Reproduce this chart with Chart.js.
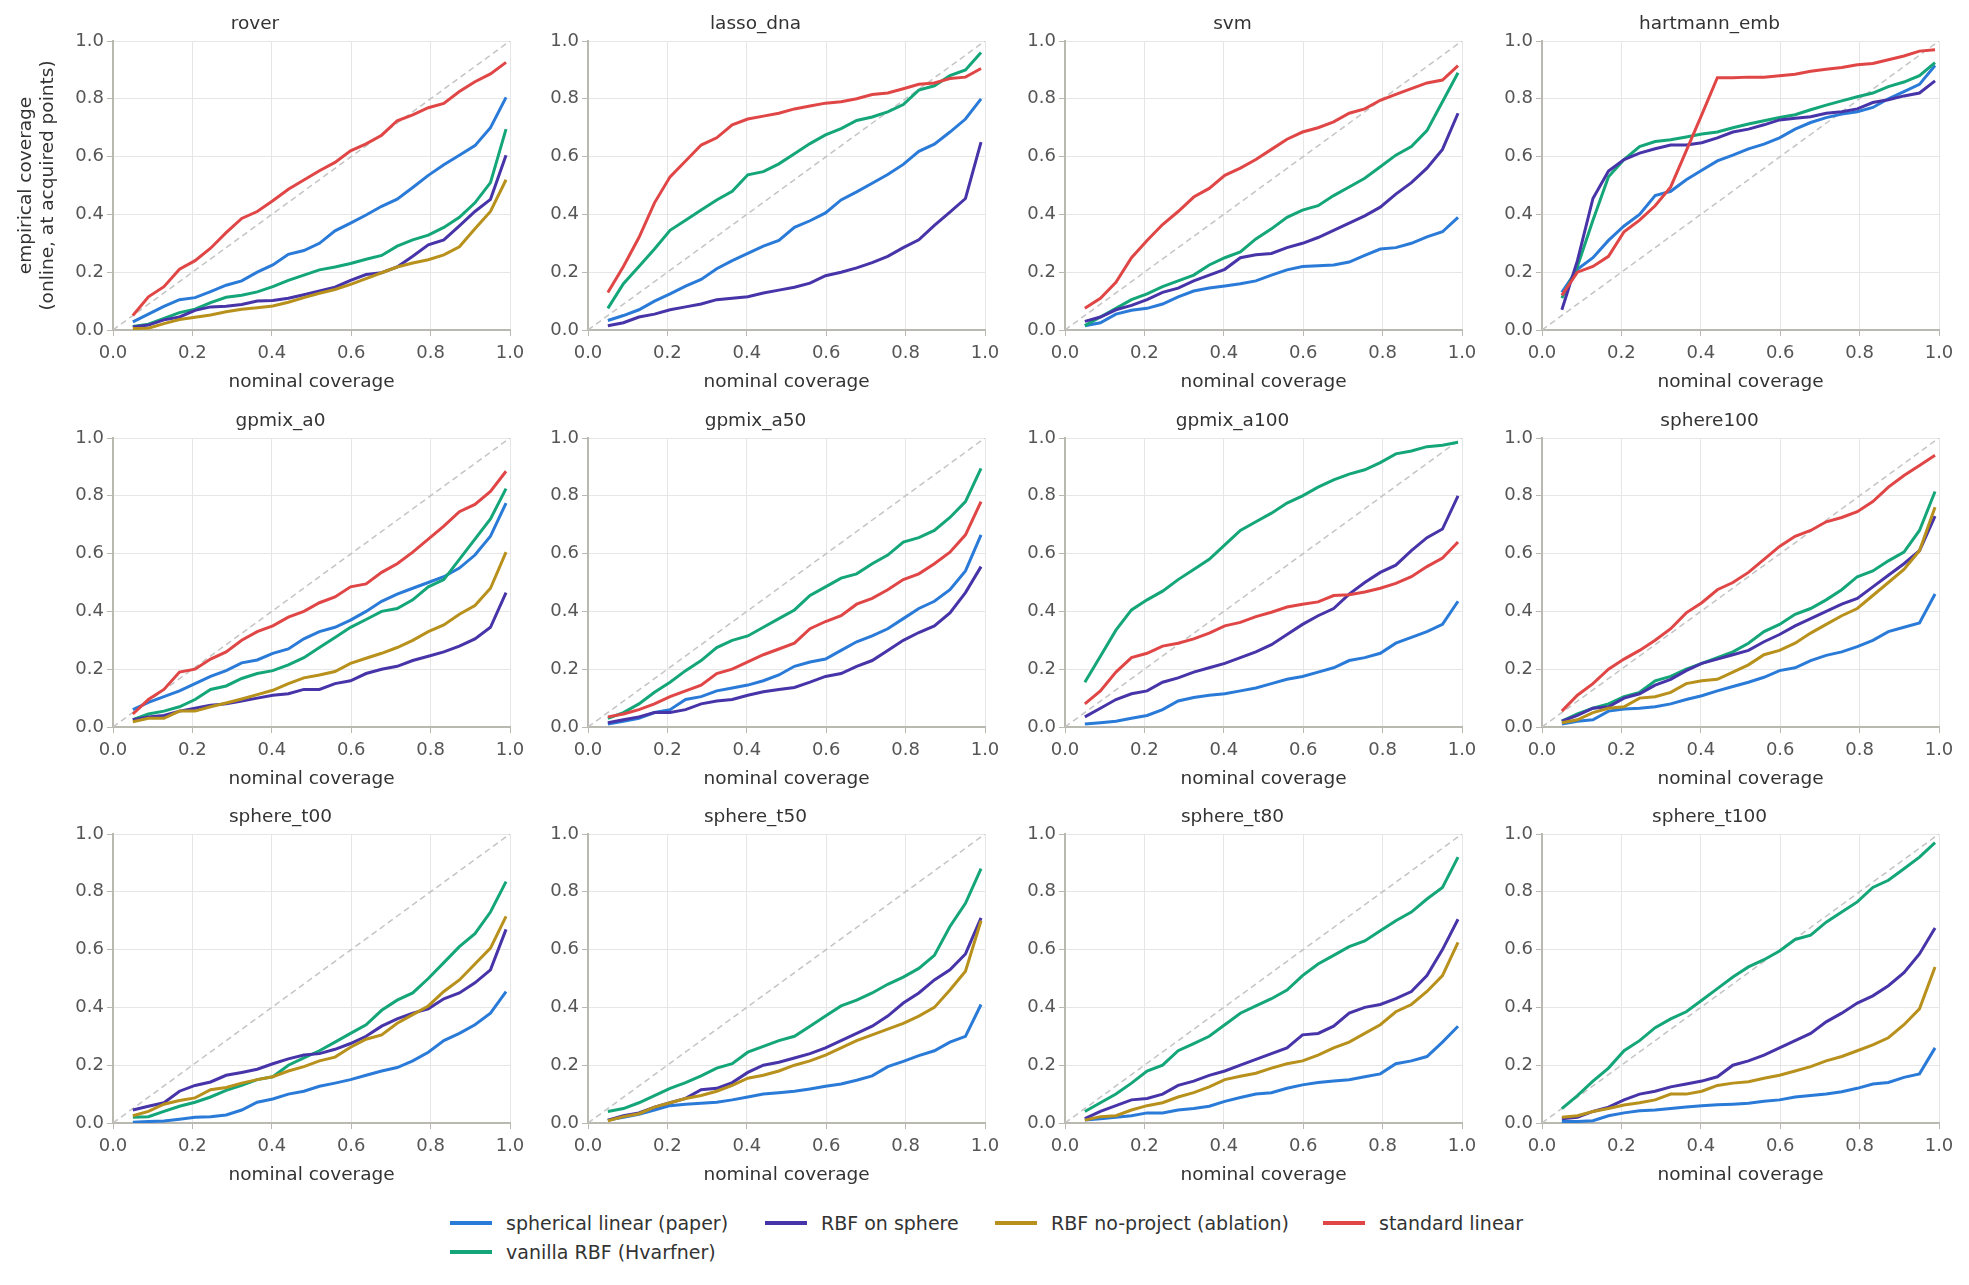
<!DOCTYPE html>
<html>
<head>
<meta charset="utf-8">
<script src="https://cdn.jsdelivr.net/npm/chart.js@4.4.1/dist/chart.umd.min.js"></script>
<style>
  body { margin: 0; background: #fff; width: 1969px; height: 1285px; position: relative; overflow: hidden; font-family: "DejaVu Sans", sans-serif; }
  .panel { position: absolute; }
  .legend-item { position: absolute; height: 24px; display: flex; align-items: center; font-size: 19px; color: #333; white-space: nowrap; }
  .legend-item .swatch { display: inline-block; width: 42px; height: 4px; margin-right: 14px; }
</style>
</head>
<body>
<script>
// nominal coverage levels (x values shared by every panel)
const nominal = [0.05, 0.0892, 0.1283, 0.1675, 0.2067, 0.2458, 0.285, 0.3242, 0.3633, 0.4025, 0.4417, 0.4808, 0.52,
                 0.5592, 0.5983, 0.6375, 0.6767, 0.7158, 0.755, 0.7942, 0.8333, 0.8725, 0.9117, 0.9508, 0.99]
const diagonal = [0, 1]
const ticks = [0, 0.2, 0.4, 0.6, 0.8, 1.0]

// rover
const rover_sph   = [0.028,0.055,0.082,0.105,0.112,0.133,0.155,0.17,0.2,0.225,0.262,0.275,0.3,0.343,0.37,0.398,0.428,0.453,0.493,0.535,0.572,0.605,0.638,0.7,0.805]
const rover_rbfS  = [0.01,0.017,0.035,0.045,0.068,0.08,0.082,0.088,0.1,0.102,0.11,0.122,0.135,0.148,0.172,0.192,0.198,0.218,0.255,0.295,0.312,0.36,0.41,0.452,0.605]
const rover_rbfNP = [0.005,0.006,0.022,0.036,0.044,0.052,0.063,0.072,0.077,0.083,0.096,0.112,0.127,0.14,0.158,0.178,0.198,0.218,0.232,0.243,0.26,0.288,0.35,0.41,0.52]
const rover_std   = [0.05,0.115,0.15,0.21,0.24,0.283,0.337,0.386,0.41,0.447,0.487,0.519,0.551,0.58,0.62,0.644,0.674,0.724,0.744,0.769,0.784,0.825,0.859,0.886,0.926]
const rover_van   = [0.012,0.02,0.04,0.06,0.072,0.095,0.113,0.12,0.132,0.15,0.172,0.19,0.208,0.218,0.23,0.245,0.258,0.29,0.312,0.328,0.355,0.39,0.44,0.51,0.695]

// lasso_dna
const lasso_sph  = [0.033,0.05,0.07,0.1,0.125,0.152,0.175,0.212,0.24,0.265,0.29,0.31,0.355,0.378,0.405,0.45,0.478,0.508,0.538,0.573,0.618,0.643,0.685,0.73,0.8]
const lasso_rbfS = [0.015,0.025,0.045,0.055,0.07,0.08,0.09,0.105,0.11,0.115,0.128,0.138,0.148,0.162,0.188,0.2,0.215,0.233,0.255,0.285,0.312,0.362,0.408,0.455,0.65]
const lasso_std  = [0.13,0.22,0.32,0.44,0.53,0.585,0.64,0.665,0.71,0.73,0.74,0.75,0.765,0.775,0.785,0.79,0.8,0.815,0.82,0.835,0.85,0.855,0.87,0.875,0.905]
const lasso_van  = [0.075,0.16,0.22,0.28,0.345,0.38,0.415,0.45,0.48,0.537,0.548,0.575,0.61,0.645,0.675,0.697,0.725,0.737,0.755,0.78,0.83,0.845,0.88,0.9,0.96]

// svm
const svm_sph  = [0.015,0.025,0.055,0.068,0.075,0.09,0.115,0.135,0.145,0.152,0.16,0.17,0.19,0.208,0.22,0.222,0.225,0.235,0.258,0.28,0.285,0.3,0.322,0.34,0.39]
const svm_rbfS = [0.03,0.045,0.07,0.085,0.105,0.13,0.145,0.17,0.19,0.21,0.25,0.26,0.265,0.285,0.3,0.32,0.345,0.37,0.395,0.425,0.47,0.51,0.56,0.625,0.75]
const svm_std  = [0.075,0.11,0.165,0.25,0.31,0.365,0.41,0.46,0.49,0.535,0.56,0.59,0.625,0.66,0.685,0.7,0.72,0.75,0.765,0.795,0.815,0.835,0.855,0.865,0.915]
const svm_van  = [0.015,0.045,0.075,0.105,0.125,0.15,0.17,0.19,0.225,0.25,0.27,0.315,0.35,0.39,0.415,0.43,0.465,0.495,0.525,0.565,0.605,0.635,0.69,0.79,0.89]

// hartmann_emb
const hart_sph  = [0.13,0.21,0.25,0.31,0.36,0.4,0.465,0.48,0.52,0.553,0.585,0.605,0.627,0.643,0.665,0.695,0.718,0.735,0.747,0.755,0.77,0.8,0.825,0.85,0.915]
const hart_rbfS = [0.07,0.24,0.455,0.55,0.59,0.612,0.627,0.64,0.64,0.648,0.665,0.685,0.695,0.71,0.727,0.733,0.738,0.75,0.755,0.765,0.787,0.797,0.81,0.82,0.862]
const hart_std  = [0.12,0.2,0.22,0.255,0.34,0.38,0.43,0.495,0.62,0.745,0.873,0.873,0.875,0.875,0.88,0.885,0.895,0.902,0.908,0.918,0.922,0.935,0.948,0.965,0.97]
const hart_van  = [0.11,0.22,0.38,0.53,0.59,0.635,0.652,0.658,0.668,0.678,0.685,0.7,0.713,0.724,0.735,0.745,0.762,0.778,0.793,0.807,0.82,0.842,0.858,0.88,0.925]

// gpmix_a0
const a0_sph   = [0.06,0.085,0.105,0.125,0.15,0.175,0.195,0.222,0.232,0.255,0.27,0.305,0.33,0.345,0.37,0.4,0.435,0.46,0.48,0.5,0.52,0.55,0.595,0.66,0.775]
const a0_rbfS  = [0.025,0.035,0.04,0.055,0.065,0.075,0.08,0.09,0.1,0.11,0.115,0.13,0.13,0.15,0.16,0.185,0.2,0.21,0.23,0.245,0.26,0.28,0.305,0.345,0.465]
const a0_rbfNP = [0.018,0.03,0.03,0.055,0.055,0.07,0.083,0.097,0.112,0.127,0.15,0.17,0.18,0.192,0.22,0.238,0.255,0.275,0.3,0.33,0.353,0.39,0.42,0.48,0.605]
const a0_std   = [0.045,0.095,0.13,0.19,0.2,0.235,0.26,0.3,0.33,0.35,0.38,0.4,0.43,0.45,0.485,0.495,0.535,0.565,0.605,0.65,0.695,0.745,0.77,0.815,0.885]
const a0_van   = [0.025,0.045,0.055,0.07,0.095,0.13,0.142,0.168,0.185,0.195,0.215,0.24,0.275,0.31,0.345,0.372,0.4,0.41,0.44,0.485,0.51,0.58,0.65,0.72,0.825]

// gpmix_a50
const a50_sph  = [0.01,0.02,0.03,0.05,0.06,0.095,0.105,0.125,0.135,0.145,0.16,0.18,0.21,0.225,0.235,0.265,0.295,0.315,0.34,0.375,0.41,0.435,0.475,0.54,0.665]
const a50_rbfS = [0.015,0.025,0.035,0.05,0.05,0.06,0.08,0.09,0.095,0.11,0.122,0.13,0.137,0.155,0.175,0.185,0.21,0.23,0.265,0.3,0.327,0.35,0.395,0.465,0.555]
const a50_std  = [0.035,0.045,0.06,0.08,0.105,0.125,0.145,0.185,0.2,0.225,0.25,0.27,0.29,0.34,0.365,0.385,0.425,0.445,0.475,0.51,0.53,0.565,0.605,0.665,0.78]
const a50_van  = [0.03,0.05,0.08,0.12,0.155,0.195,0.23,0.275,0.3,0.315,0.345,0.375,0.405,0.455,0.485,0.515,0.53,0.565,0.595,0.64,0.655,0.68,0.725,0.78,0.895]

// gpmix_a100
const a100_sph  = [0.01,0.015,0.02,0.03,0.04,0.06,0.09,0.102,0.11,0.115,0.125,0.135,0.15,0.165,0.175,0.19,0.205,0.23,0.24,0.255,0.29,0.31,0.33,0.355,0.435]
const a100_rbfS = [0.035,0.065,0.095,0.115,0.125,0.155,0.17,0.19,0.205,0.22,0.24,0.26,0.285,0.32,0.355,0.385,0.41,0.46,0.5,0.535,0.56,0.61,0.655,0.685,0.8]
const a100_std  = [0.08,0.125,0.19,0.24,0.255,0.28,0.29,0.305,0.325,0.35,0.362,0.382,0.397,0.415,0.425,0.433,0.455,0.458,0.467,0.48,0.497,0.52,0.555,0.585,0.64]
const a100_van  = [0.155,0.245,0.335,0.405,0.44,0.47,0.51,0.545,0.58,0.63,0.68,0.71,0.74,0.775,0.8,0.83,0.855,0.875,0.89,0.915,0.945,0.955,0.97,0.975,0.985]

// sphere100
const s100_sph   = [0.01,0.02,0.025,0.055,0.062,0.065,0.07,0.08,0.095,0.108,0.125,0.14,0.155,0.172,0.195,0.205,0.23,0.248,0.26,0.278,0.3,0.33,0.345,0.36,0.46]
const s100_rbfS  = [0.02,0.04,0.065,0.07,0.1,0.115,0.145,0.165,0.195,0.22,0.235,0.25,0.265,0.295,0.32,0.35,0.375,0.4,0.425,0.445,0.485,0.525,0.565,0.61,0.73]
const s100_rbfNP = [0.015,0.025,0.05,0.065,0.07,0.1,0.105,0.12,0.15,0.16,0.165,0.19,0.215,0.25,0.265,0.29,0.325,0.355,0.385,0.41,0.455,0.5,0.545,0.61,0.76]
const s100_std   = [0.055,0.11,0.15,0.2,0.235,0.265,0.3,0.34,0.395,0.43,0.475,0.5,0.535,0.58,0.625,0.66,0.68,0.71,0.725,0.745,0.78,0.83,0.87,0.905,0.94]
const s100_van   = [0.02,0.045,0.065,0.08,0.105,0.12,0.16,0.175,0.2,0.22,0.24,0.26,0.29,0.33,0.355,0.39,0.41,0.44,0.475,0.52,0.54,0.575,0.605,0.68,0.815]

// sphere_t00
const t00_sph   = [0.003,0.005,0.007,0.013,0.02,0.022,0.028,0.045,0.072,0.083,0.1,0.11,0.127,0.138,0.15,0.165,0.18,0.192,0.215,0.245,0.285,0.31,0.34,0.38,0.455]
const t00_rbfS  = [0.045,0.058,0.07,0.11,0.13,0.142,0.165,0.175,0.186,0.205,0.222,0.235,0.24,0.255,0.275,0.3,0.335,0.36,0.38,0.395,0.43,0.45,0.485,0.53,0.67]
const t00_rbfNP = [0.025,0.04,0.065,0.078,0.087,0.115,0.123,0.138,0.15,0.16,0.18,0.195,0.215,0.228,0.262,0.29,0.305,0.345,0.375,0.405,0.455,0.495,0.55,0.605,0.715]
const t00_van   = [0.02,0.022,0.04,0.058,0.072,0.09,0.113,0.13,0.15,0.16,0.2,0.225,0.25,0.28,0.31,0.34,0.39,0.425,0.45,0.5,0.555,0.61,0.655,0.73,0.835]

// sphere_t50
const t50_sph   = [0.01,0.02,0.03,0.045,0.06,0.065,0.068,0.072,0.08,0.09,0.1,0.105,0.11,0.118,0.127,0.135,0.148,0.163,0.195,0.213,0.233,0.25,0.28,0.3,0.41]
const t50_rbfS  = [0.01,0.025,0.035,0.055,0.07,0.085,0.115,0.12,0.14,0.175,0.2,0.21,0.225,0.24,0.26,0.285,0.31,0.335,0.37,0.415,0.45,0.495,0.53,0.585,0.71]
const t50_rbfNP = [0.008,0.022,0.032,0.055,0.07,0.085,0.095,0.11,0.13,0.155,0.165,0.18,0.2,0.215,0.235,0.26,0.285,0.305,0.325,0.345,0.37,0.4,0.46,0.525,0.7]
const t50_van   = [0.04,0.05,0.07,0.095,0.12,0.14,0.163,0.19,0.205,0.245,0.265,0.285,0.3,0.335,0.37,0.405,0.425,0.45,0.48,0.505,0.535,0.58,0.68,0.76,0.88]

// sphere_t80
const t80_sph   = [0.01,0.015,0.02,0.025,0.035,0.035,0.045,0.05,0.058,0.075,0.088,0.1,0.105,0.12,0.132,0.14,0.145,0.15,0.16,0.17,0.205,0.215,0.23,0.28,0.335]
const t80_rbfS  = [0.015,0.04,0.06,0.08,0.085,0.1,0.13,0.145,0.165,0.18,0.2,0.22,0.24,0.26,0.305,0.31,0.335,0.38,0.4,0.41,0.43,0.455,0.51,0.6,0.705]
const t80_rbfNP = [0.01,0.022,0.025,0.045,0.06,0.07,0.09,0.105,0.125,0.15,0.162,0.172,0.19,0.205,0.215,0.235,0.26,0.28,0.31,0.34,0.385,0.41,0.455,0.51,0.625]
const t80_van   = [0.04,0.07,0.1,0.138,0.18,0.2,0.25,0.275,0.3,0.34,0.38,0.405,0.43,0.46,0.51,0.55,0.58,0.61,0.63,0.665,0.7,0.73,0.775,0.815,0.92]

// sphere_t100
const t100_sph   = [0.005,0.005,0.008,0.025,0.035,0.042,0.045,0.05,0.055,0.06,0.063,0.065,0.068,0.075,0.08,0.09,0.095,0.1,0.108,0.12,0.135,0.14,0.158,0.17,0.26]
const t100_rbfS  = [0.015,0.02,0.04,0.055,0.08,0.1,0.11,0.125,0.135,0.145,0.16,0.2,0.215,0.235,0.26,0.285,0.31,0.35,0.38,0.415,0.44,0.475,0.52,0.585,0.675]
const t100_rbfNP = [0.02,0.025,0.04,0.05,0.062,0.07,0.08,0.1,0.1,0.11,0.13,0.138,0.143,0.155,0.165,0.18,0.195,0.215,0.23,0.25,0.27,0.295,0.34,0.395,0.54]
const t100_van   = [0.05,0.095,0.145,0.19,0.25,0.285,0.33,0.36,0.385,0.425,0.465,0.505,0.54,0.565,0.595,0.635,0.65,0.695,0.73,0.765,0.815,0.84,0.88,0.92,0.97]

const methods = [
  { key: 'sph',   label: 'spherical linear (paper)', color: '#2a7ad8', order: 5 },
  { key: 'van',   label: 'vanilla RBF (Hvarfner)',   color: '#14a678', order: 4 },
  { key: 'rbfS',  label: 'RBF on sphere',            color: '#4634a8', order: 3 },
  { key: 'rbfNP', label: 'RBF no-project (ablation)', color: '#b8901c', order: 2 },
  { key: 'std',   label: 'standard linear',          color: '#e04646', order: 1 },
]

const panels = [
  { title: 'rover',        sph: rover_sph, rbfS: rover_rbfS, rbfNP: rover_rbfNP, std: rover_std, van: rover_van },
  { title: 'lasso_dna',    sph: lasso_sph, rbfS: lasso_rbfS, std: lasso_std, van: lasso_van },
  { title: 'svm',          sph: svm_sph, rbfS: svm_rbfS, std: svm_std, van: svm_van },
  { title: 'hartmann_emb', sph: hart_sph, rbfS: hart_rbfS, std: hart_std, van: hart_van },
  { title: 'gpmix_a0',     sph: a0_sph, rbfS: a0_rbfS, rbfNP: a0_rbfNP, std: a0_std, van: a0_van },
  { title: 'gpmix_a50',    sph: a50_sph, rbfS: a50_rbfS, std: a50_std, van: a50_van },
  { title: 'gpmix_a100',   sph: a100_sph, rbfS: a100_rbfS, std: a100_std, van: a100_van },
  { title: 'sphere100',    sph: s100_sph, rbfS: s100_rbfS, rbfNP: s100_rbfNP, std: s100_std, van: s100_van },
  { title: 'sphere_t00',   sph: t00_sph, rbfS: t00_rbfS, rbfNP: t00_rbfNP, van: t00_van },
  { title: 'sphere_t50',   sph: t50_sph, rbfS: t50_rbfS, rbfNP: t50_rbfNP, van: t50_van },
  { title: 'sphere_t80',   sph: t80_sph, rbfS: t80_rbfS, rbfNP: t80_rbfNP, van: t80_van },
  { title: 'sphere_t100',  sph: t100_sph, rbfS: t100_rbfS, rbfNP: t100_rbfNP, van: t100_van },
]

// plot-area geometry of the 4x3 grid
const plotLeft = [113, 588, 1065, 1542]
const plotTop = [41, 438, 834]
const plotW = 397, plotH = 289
const titleH = 41, xAxisH = 66, padRight = 26

const axisGray = '#b9b9b1'
const tickFont = { family: 'DejaVu Sans', size: 18 }
const labelFont = { family: 'DejaVu Sans', size: 18.5, weight: 'normal' }

function makePanel(p, i) {
  const col = i % 4, row = Math.floor(i / 4)
  const yw = i === 0 ? 113 : 62
  const div = document.createElement('div')
  div.className = 'panel'
  const w = yw + plotW + padRight, h = titleH + plotH + xAxisH
  div.style.left = (plotLeft[col] - yw) + 'px'
  div.style.top = (plotTop[row] - titleH) + 'px'
  div.style.width = w + 'px'
  div.style.height = h + 'px'
  const canvas = document.createElement('canvas')
  canvas.width = w
  canvas.height = h
  div.appendChild(canvas)
  document.body.appendChild(div)

  const datasets = [{
    data: diagonal.map(v => ({ x: v, y: v })),
    borderColor: '#c4c4c4',
    borderWidth: 1.5,
    borderDash: [6, 4],
    pointRadius: 0,
    order: 10,
  }]
  methods.forEach(m => {
    if (!p[m.key]) return
    datasets.push({
      label: m.label,
      data: p[m.key].map((v, j) => ({ x: nominal[j], y: v })),
      borderColor: m.color,
      borderWidth: 3,
      pointRadius: 0,
      tension: 0,
      order: m.order,
    })
  })

  const axis = (title, isY) => ({
    type: 'linear',
    min: 0,
    max: 1,
    afterBuildTicks: s => { s.ticks = ticks.map(v => ({ value: v })) },
    ticks: {
      color: '#555',
      font: tickFont,
      padding: isY ? 3 : 7,
      callback: v => v.toFixed(1),
    },
    grid: { color: '#e6e6e6', lineWidth: 1, tickColor: axisGray, tickLength: 6 },
    border: { color: axisGray, width: 2 },
    title: title ? { display: true, text: title, color: '#333', font: labelFont,
                     padding: isY ? { top: 15, bottom: 0 } : { top: 0, bottom: 3 } } : { display: false },
    afterFit: s => { if (isY) s.width = yw; else s.height = xAxisH },
  })

  new Chart(canvas, {
    type: 'line',
    data: { datasets },
    options: {
      responsive: false,
      animation: false,
      devicePixelRatio: 1,
      layout: { padding: { right: padRight, top: 0, left: 0, bottom: 0 } },
      plugins: {
        legend: { display: false },
        tooltip: { enabled: false },
        title: { display: true, text: p.title, color: '#333', font: labelFont, padding: { top: 13, bottom: 5.8 } },
      },
      scales: {
        x: axis('nominal coverage', false),
        y: axis(i === 0 ? ['empirical coverage', '(online, at acquired points)'] : null, true),
      },
    },
  })
}

panels.forEach(makePanel)

// shared legend below the grid (4 columns, column-major like the source figure)
const legendSlots = [
  { key: 'sph',   x: 450,  y: 1211 },
  { key: 'van',   x: 450,  y: 1240 },
  { key: 'rbfS',  x: 765,  y: 1211 },
  { key: 'rbfNP', x: 995,  y: 1211 },
  { key: 'std',   x: 1323, y: 1211 },
]
legendSlots.forEach(s => {
  const m = methods.find(mm => mm.key === s.key)
  const item = document.createElement('div')
  item.className = 'legend-item'
  item.style.left = s.x + 'px'
  item.style.top = s.y + 'px'
  const sw = document.createElement('span')
  sw.className = 'swatch'
  sw.style.background = m.color
  item.appendChild(sw)
  item.appendChild(document.createTextNode(m.label))
  document.body.appendChild(item)
})
</script>
</body>
</html>
